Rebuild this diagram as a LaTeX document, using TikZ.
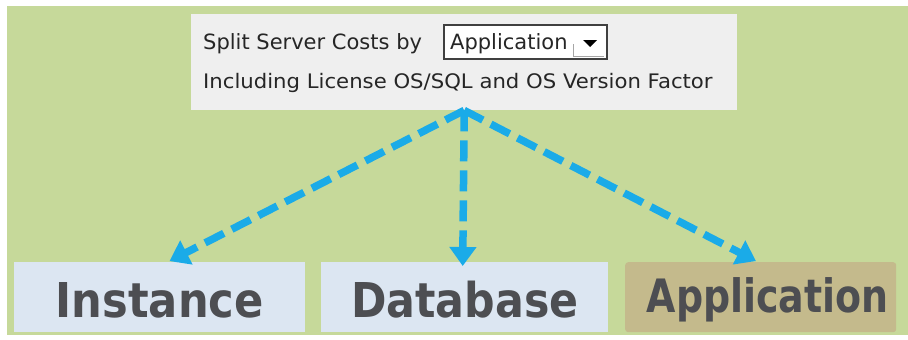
\documentclass[tikz,border=0pt]{standalone}
\usepackage{fontspec}
\setmainfont{DejaVu Sans}
\usetikzlibrary{arrows.meta}
\definecolor{bggreen}{HTML}{C6D99A}
\definecolor{panelgray}{HTML}{EFEFEF}
\definecolor{boxblue}{HTML}{DCE6F2}
\definecolor{boxtan}{HTML}{C4BA8C}
\definecolor{txtgray}{HTML}{4D4E52}
\definecolor{arrowblue}{HTML}{1AABE8}
\begin{document}
\begin{tikzpicture}[x=1pt,y=-1pt,
  levelbox/.style={draw=none,inner sep=0pt,minimum height=70pt,text height=40pt,text depth=0pt,
    font=\bfseries,text=txtgray,anchor=north west},
  flowarrow/.style={draw=arrowblue,line width=7.5pt,dash pattern=on 21pt off 9pt,
    -{Triangle[width=26pt,length=19pt]},shorten >=2pt},
  paneltext/.style={anchor=base west,inner sep=0pt,text=black!85}
]
\useasboundingbox (0,0) rectangle (908,340);
\fill[bggreen] (7,6) rectangle (908,335);
% panel
\node[fill=panelgray,inner sep=0pt,minimum width=546pt,minimum height=96pt,anchor=north west] (panel) at (191,14) {};
\node[paneltext,font=\fontsize{21}{24}\selectfont] (split) at (203,49) {Split Server Costs by};
\node[draw=black!75,line width=1.5pt,fill=white,inner sep=0pt,minimum width=163pt,minimum height=34pt,anchor=north west] (drop) at (443,24) {};
\node[paneltext,font=\fontsize{21}{24}\selectfont] (droptext) at (450,49) {Application};
\fill[black] (583,40) -- (597,40) -- (590,47) -- cycle;
\draw[black!35,line width=1pt] (573,44) -- (573,56) -- (604,56);
\node[paneltext,font=\fontsize{20}{22}\selectfont] (incl) at (203,88) {\scalebox{1.06}[1]{Including License OS/SQL and OS Version Factor}};
% boxes
\node[levelbox,fill=boxblue,minimum width=291pt] (inst) at (14,262) {\scalebox{0.9}[1]{\fontsize{48}{50}\selectfont Instance}};
\node[levelbox,fill=boxblue,minimum width=287pt] (db) at (321,262) {\scalebox{0.89}[1]{\fontsize{48}{50}\selectfont Database}};
\node[levelbox,fill=boxtan,rounded corners=3pt,minimum width=271pt,text height=30pt] (app) at (625,262) {\hspace*{14pt}\scalebox{0.825}[1]{\fontsize{46}{48}\selectfont Application}};
% arrows
\draw[flowarrow] (panel.south) -- ([xshift=8pt]inst.north);
\draw[flowarrow] (panel.south) -- ([xshift=-2pt,yshift=-6pt]db.north);
\draw[flowarrow] (panel.south) -- ([xshift=-3pt]app.north);
\end{tikzpicture}
\end{document}
